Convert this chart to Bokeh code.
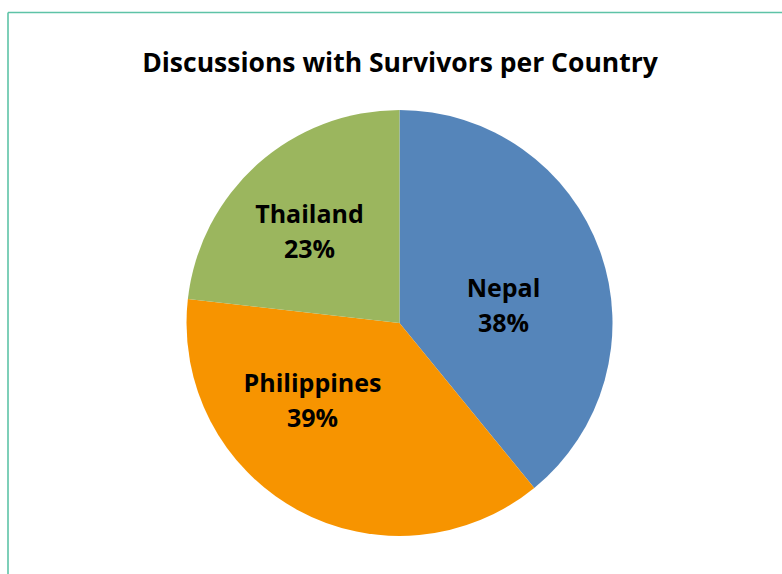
import math
from bokeh.plotting import figure
from bokeh.models import Range1d, ColumnDataSource
from bokeh.core.properties import value
from bokeh.embed import file_html
from bokeh.resources import INLINE

# ---- data ----
countries = ["Nepal", "Philippines", "Thailand"]
slice_values = [39.1, 37.7, 23.2]          # slice sizes as drawn in the picture
pct_labels = ["38%", "39%", "23%"]         # percentage texts as printed
colors = ["#5585BA", "#F79400", "#9BB65E"]

# ---- layout (pixels) ----
W, H = 782, 574
CX, CY, R = 399, 322.5, 213
# label anchor offsets from pie centre (px, screen y down), first-line baseline
label_offsets = {"Nepal": (104, -36), "Philippines": (-87, 59), "Thailand": (-90, -110)}
LINE_GAP = 35
FONT = "Open Sans"

def fy(py):
    return H - py

p = figure(width=W, height=H, output_backend="svg", toolbar_location=None,
           x_range=Range1d(0, W), y_range=Range1d(0, H),
           min_border=0, min_border_left=0, min_border_right=0,
           min_border_top=0, min_border_bottom=0)
p.axis.visible = False
p.grid.visible = False
p.outline_line_color = None
p.background_fill_color = "white"
p.border_fill_color = "white"

# frame border (teal) on top and left
p.segment(x0=[7.5, 7.5], y0=[fy(12), fy(12)], x1=[W + 5, 7.5], y1=[fy(12), -5],
          line_color="#5EC3A7", line_width=1.6)

total = float(sum(slice_values))
starts, ends = [], []
cum = 0.0
for s in slice_values:
    a0 = math.pi / 2 - 2 * math.pi * cum / total
    cum += s
    a1 = math.pi / 2 - 2 * math.pi * cum / total
    starts.append(a0)
    ends.append(a1)

src = ColumnDataSource(dict(country=countries, share=slice_values, color=colors,
                            start=starts, end=ends))
p.wedge(x=CX, y=fy(CY), radius=R, start_angle="start", end_angle="end",
        direction="clock", fill_color="color", line_color=None, source=src)

# labels
for c, lab in zip(countries, pct_labels):
    dx, dy = label_offsets[c]
    x = CX + dx
    y1 = CY + dy
    p.text(x=[x, x], y=[fy(y1), fy(y1 + LINE_GAP)], text=[c, lab],
           text_align="center", text_baseline="alphabetic",
           text_font=value(FONT), text_font_style="bold",
           text_font_size="25px", text_color="black")

# title
p.text(x=[399.5], y=[fy(61)], text=["Discussions with Survivors per Country"],
       text_align="center", text_baseline="alphabetic",
       text_font=value(FONT), text_font_style="bold",
       text_font_size="26.5px", text_color="black")

open("out.html", "w").write(file_html(p, INLINE))
